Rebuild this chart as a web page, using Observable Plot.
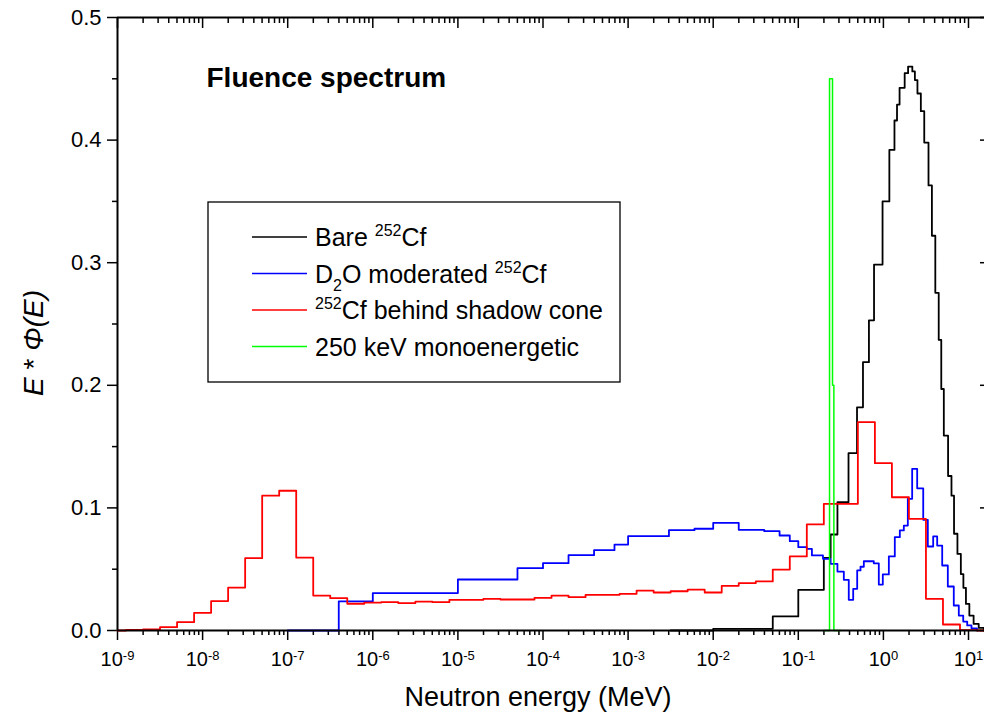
<!DOCTYPE html>
<html><head><meta charset="utf-8">
<script src="https://cdn.jsdelivr.net/npm/d3@7"></script>
<script src="https://cdn.jsdelivr.net/npm/@observablehq/plot@0.6"></script>
<style>
html,body{margin:0;padding:0;background:#fff;}
#chart{position:relative;width:984px;height:727px;overflow:hidden;}
</style></head><body><div id="chart"></div>
<script>
// ---- data (bin left edges as log10(E/MeV), value of E*Phi(E) in that bin) ----
const bareLogE = [-2.5,-2.0,-1.3,-1.0,-0.7,-0.62,-0.54,-0.41,-0.31,-0.24,-0.17,-0.11,-0.01,0.07,0.13,0.16,0.19,0.25,0.29,0.34,0.37,0.40,0.44,0.48,0.53,0.57,0.61,0.65,0.68,0.71,0.76,0.80,0.83,0.87,0.91,0.94,0.97,1.01,1.06,1.12,1.18];
const bareVal  = [0,0.0014,0.0115,0.0332,0.0593,0.0783,0.1047,0.1446,0.182,0.2189,0.253,0.2985,0.350,0.392,0.416,0.429,0.4426,0.4546,0.460,0.456,0.449,0.438,0.4236,0.398,0.363,0.322,0.2754,0.237,0.197,0.159,0.126,0.110,0.0789,0.0625,0.046,0.0348,0.0217,0.0122,0.0054,0.0022,0];

const d2oLogE = [-7.0,-6.4,-6.0,-5.0,-4.3,-4.0,-3.7,-3.4,-3.16,-3.0,-2.52,-2.22,-2.0,-1.7,-1.4,-1.22,-1.1,-1.0,-0.9,-0.84,-0.71,-0.62,-0.54,-0.465,-0.407,-0.355,-0.308,-0.269,-0.23,-0.113,-0.054,-0.007,0.064,0.134,0.193,0.24,0.287,0.338,0.397,0.468,0.522,0.585,0.632,0.691,0.757,0.827,0.886,0.938,0.985,1.035,1.10];
const d2oVal  = [0,0.0237,0.0305,0.0416,0.0508,0.0549,0.0614,0.0655,0.0701,0.0769,0.0818,0.083,0.0878,0.0821,0.081,0.0775,0.0729,0.068,0.0665,0.0612,0.0585,0.0544,0.0481,0.0413,0.025,0.034,0.049,0.052,0.0565,0.0548,0.0375,0.0457,0.0604,0.0761,0.0816,0.0856,0.1074,0.1319,0.116,0.0903,0.0685,0.0767,0.0693,0.053,0.0359,0.0204,0.0122,0.0073,0.0041,0.0018,0];

const shadowLogE = [-9.0,-8.9,-8.7,-8.5,-8.3,-8.1,-7.9,-7.7,-7.5,-7.3,-7.1,-6.9,-6.7,-6.5,-6.3,-6.1,-5.9,-5.7,-5.5,-5.3,-5.1,-4.9,-4.7,-4.5,-4.3,-4.1,-3.9,-3.7,-3.5,-3.3,-3.1,-2.9,-2.7,-2.5,-2.3,-2.1,-1.9,-1.7,-1.5,-1.3,-1.1,-0.9,-0.7,-0.5,-0.3,-0.1,0.1,0.3,0.5,0.7,0.9,1.1,1.19];
const shadowVal  = [0,0.0004,0.0009,0.0027,0.0068,0.0144,0.024,0.035,0.059,0.110,0.114,0.0595,0.0285,0.0264,0.0218,0.0228,0.0231,0.0223,0.0236,0.0231,0.025,0.025,0.0258,0.0253,0.0253,0.0266,0.0285,0.0272,0.0291,0.0291,0.0299,0.0326,0.031,0.032,0.0334,0.031,0.0364,0.0386,0.040,0.0497,0.0604,0.0865,0.1033,0.1033,0.170,0.1365,0.1087,0.0911,0.0258,0.0049,0.0003,0,0];

const monoLogE = [-0.7,-0.633,-0.598,-0.582,-0.5];
const monoVal  = [0,0.45,0.2,0,0];

const seriesNames  = ["Bare 252Cf","D2O moderated 252Cf","252Cf behind shadow cone","250 keV monoenergetic"];
const seriesColors = ["#000000","#0000ff","#ff0000","#00ff00"];

const yMajor = [0,0.1,0.2,0.3,0.4,0.5];
const yMinor = [0.05,0.15,0.25,0.35,0.45];
const xExponents = [-9,-8,-7,-6,-5,-4,-3,-2,-1,0,1];
const xMantissas = [2,3,4,5,6,7,8,9];

// ---- build tables ----
function table(logE, val, name){ return logE.map((l,i)=>({E: Math.pow(10,l), v: val[i], s: name})); }
const bare = table(bareLogE, bareVal, seriesNames[0]);
const d2o = table(d2oLogE, d2oVal, seriesNames[1]);
const shadow = table(shadowLogE, shadowVal, seriesNames[2]);
const mono = table(monoLogE, monoVal, seriesNames[3]);

const xMin = 1e-9, xMax = Math.pow(10, 1.188);
const xMajor = xExponents.map(e => Math.pow(10, e));
const xMinor = xExponents.flatMap(e => xMantissas.map(m => m*Math.pow(10,e))).filter(v => v < xMax);
const fmtX = d => "10^" + Math.round(Math.log10(d));
const blank = () => "";

const svg = Plot.plot({
  width: 984, height: 727,
  marginLeft: 117, marginRight: 0, marginTop: 17, marginBottom: 97,
  style: {fontFamily: "'Liberation Sans', Arial, sans-serif", fontSize: "20px", color: "#000", background: "#fff"},
  x: {type: "log", domain: [xMin, xMax]},
  y: {domain: [0, 0.5]},
  marks: [
    Plot.axisY({ticks: yMajor, tickSize: 10, tickPadding: 6, tickFormat: d3.format(".1f"), label: null, strokeWidth: 1.5, fontSize: 22}),
    Plot.axisY({ticks: yMinor, tickSize: 5, tickFormat: blank, label: null, strokeWidth: 1.5}),
    Plot.axisY({anchor: "right", ticks: yMajor, tickSize: -5, tickFormat: blank, label: null, strokeWidth: 1.5}),
    Plot.axisX({ticks: xMajor, tickSize: 10, tickPadding: 11, tickFormat: fmtX, label: null, strokeWidth: 1.5}),
    Plot.axisX({ticks: xMinor, tickSize: 5, tickFormat: blank, label: null, strokeWidth: 1.5}),
    Plot.axisX({anchor: "top", ticks: xMajor, tickSize: -10, tickFormat: blank, label: null, strokeWidth: 1.5}),
    Plot.axisX({anchor: "top", ticks: xMinor, tickSize: -5, tickFormat: blank, label: null, strokeWidth: 1.5}),
    Plot.lineY(bare, {x: "E", y: "v", curve: "step-after", stroke: seriesColors[0], strokeWidth: 1.8}),
    Plot.lineY(d2o, {x: "E", y: "v", curve: "step-after", stroke: seriesColors[1], strokeWidth: 1.8}),
    Plot.lineY(shadow, {x: "E", y: "v", curve: "step-after", stroke: seriesColors[2], strokeWidth: 1.8}),
    Plot.lineY(mono, {x: "E", y: "v", curve: "step-after", stroke: seriesColors[3], strokeWidth: 1.5}),
    Plot.ruleY([0], {stroke: "#000", strokeWidth: 2}),
    Plot.ruleY([0.5], {stroke: "#000", strokeWidth: 2}),
    Plot.ruleX([xMin], {stroke: "#000", strokeWidth: 2}),
    Plot.text(["Fluence spectrum"], {frameAnchor: "top-left", dx: 89, dy: 50, fontWeight: "bold", fontSize: 28, textAnchor: "start", lineAnchor: "top"})
  ]
});

const S = d3.select(svg);
// superscript exponents on x tick labels
S.selectAll('g[aria-label="x-axis tick label"] text').each(function(){
  const t = this.textContent;
  if (!t.startsWith("10^")) return;
  this.textContent = "10";
  d3.select(this).append("tspan").attr("dy", "-0.45em").attr("font-size", "13px").text(t.slice(3));
});

// axis titles
S.append("text").attr("x", 538).attr("y", 706).attr("text-anchor", "middle")
  .attr("font-size", 27).attr("fill", "#000").text("Neutron energy (MeV)");
const yl = S.append("text").attr("transform", "translate(43,343) rotate(-90)").attr("text-anchor", "middle")
  .attr("font-size", 28).attr("fill", "#000");
yl.append("tspan").attr("font-style", "italic").text("E");
yl.append("tspan").text(" * ");
yl.append("tspan").attr("font-style", "italic").text("\u03A6(E)");

// legend
const lg = S.append("g").attr("text-anchor", "start");
lg.append("rect").attr("x", 208).attr("y", 202).attr("width", 412).attr("height", 180)
  .attr("fill", "#fff").attr("stroke", "#000").attr("stroke-width", 1.3);
const rowY = [237, 273.5, 310, 346.5];
rowY.forEach((y, i) => {
  lg.append("line").attr("x1", 252).attr("x2", 307).attr("y1", y).attr("y2", y)
    .attr("stroke", seriesColors[i]).attr("stroke-width", 1.5);
});
function addText(y){ return lg.append("text").attr("x", 315).attr("y", y + 9).attr("text-anchor", "start").attr("font-size", 25).attr("fill", "#000"); }
let t0 = addText(rowY[0]); t0.append("tspan").text("Bare "); t0.append("tspan").attr("dy", -10).attr("font-size", 16).text("252"); t0.append("tspan").attr("dy", 10).text("Cf");
let t1 = addText(rowY[1]); t1.append("tspan").text("D"); t1.append("tspan").attr("dy", 8).attr("font-size", 16).text("2"); t1.append("tspan").attr("dy", -8).text("O moderated "); t1.append("tspan").attr("dy", -10).attr("font-size", 16).text("252"); t1.append("tspan").attr("dy", 10).text("Cf");
let t2 = addText(rowY[2]); t2.append("tspan").attr("dy", -10).attr("font-size", 16).text("252"); t2.append("tspan").attr("dy", 10).text("Cf behind shadow cone");
let t3 = addText(rowY[3]); t3.text("250 keV monoenergetic");

document.getElementById("chart").appendChild(svg);
</script></body></html>
